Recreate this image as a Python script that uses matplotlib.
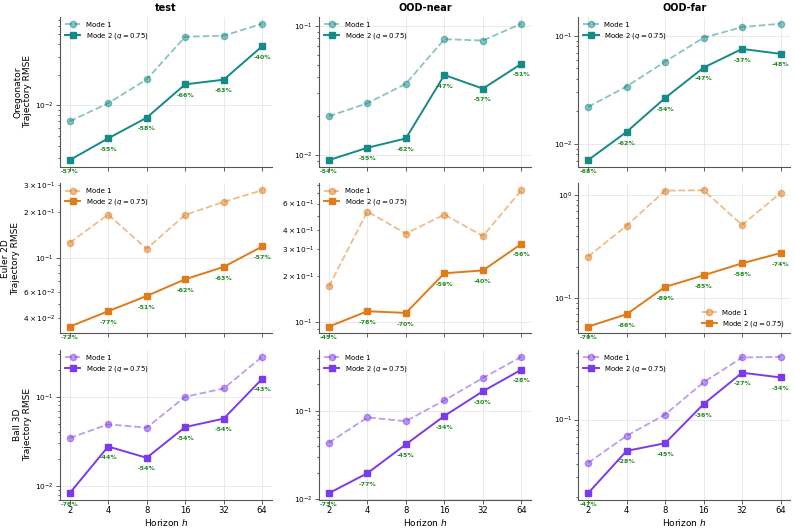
import matplotlib.pyplot as plt
import numpy as np

horizons = [2, 4, 8, 16, 32, 64]
splits = ["test", "OOD-near", "OOD-far"]
systems = ["Oregonator", "Euler 2D", "Ball 3D"]
colors = ["#168a86", "#e07b1a", "#7c3aed"]

# Mode 1 / Mode 2 RMSE, one row per split (test, OOD-near, OOD-far)
oreg_mode1 = [[0.00697, 0.0105, 0.0180, 0.0474, 0.0485, 0.0637],
              [0.0200, 0.0252, 0.0357, 0.0789, 0.0771, 0.104],
              [0.0220, 0.0340, 0.0579, 0.0965, 0.121, 0.130]]
oreg_mode2 = [[0.00289, 0.00473, 0.00756, 0.0161, 0.0179, 0.0382],
              [0.00915, 0.0114, 0.01346, 0.0417, 0.0327, 0.0509],
              [0.00706, 0.0129, 0.0266, 0.0509, 0.0759, 0.0683]]
oreg_pct = [[-57, -55, -58, -66, -63, -40],
            [-54, -55, -62, -47, -57, -51],
            [-68, -62, -54, -47, -37, -48]]

euler_mode1 = [[0.126, 0.193, 0.115, 0.192, 0.234, 0.279],
               [0.171, 0.532, 0.381, 0.508, 0.367, 0.734],
               [0.252, 0.503, 1.10, 1.11, 0.511, 1.045]]
euler_mode2 = [[0.0353, 0.0446, 0.0562, 0.0724, 0.0873, 0.119],
               [0.0931, 0.1176, 0.1146, 0.209, 0.218, 0.326],
               [0.0527, 0.0695, 0.128, 0.166, 0.217, 0.273]]
euler_pct = [[-72, -77, -51, -62, -63, -57],
             [-45, -78, -70, -59, -40, -56],
             [-79, -86, -89, -85, -58, -74]]

ball_mode1 = [[0.0345, 0.0491, 0.0451, 0.100, 0.124, 0.281],
              [0.0436, 0.0843, 0.0765, 0.132, 0.236, 0.410],
              [0.0406, 0.0712, 0.111, 0.217, 0.364, 0.369]]
ball_mode2 = [[0.0083, 0.0277, 0.0207, 0.0458, 0.0569, 0.159],
              [0.0117, 0.0197, 0.0418, 0.0878, 0.167, 0.293],
              [0.0216, 0.0521, 0.0611, 0.138, 0.265, 0.240]]
ball_pct = [[-76, -44, -54, -54, -54, -43],
            [-73, -77, -45, -34, -30, -28],
            [-47, -28, -45, -36, -27, -34]]

mode1 = [oreg_mode1, euler_mode1, ball_mode1]
mode2 = [oreg_mode2, euler_mode2, ball_mode2]
pct = [oreg_pct, euler_pct, ball_pct]

fig, axes = plt.subplots(3, 3, figsize=(7.95, 5.28), dpi=100)
fig.subplots_adjust(left=0.0755, right=0.994, top=0.968, bottom=0.053,
                    wspace=0.224, hspace=0.11)

x = np.arange(len(horizons))
for r in range(3):
    for c in range(3):
        ax = axes[r][c]
        col = colors[r]
        ax.plot(x, mode1[r][c], '--o', color=col, alpha=0.5, lw=1.3,
                ms=4.5, label='Mode 1')
        ax.plot(x, mode2[r][c], '-s', color=col, lw=1.4, ms=4.5,
                label='Mode 2 ($q = 0.75$)')
        for i in range(len(horizons)):
            ax.annotate(f"{pct[r][c][i]}%", (x[i], mode2[r][c][i]),
                        xytext=(0, -8), textcoords='offset points',
                        ha='center', va='center', fontsize=4.5,
                        fontweight='bold', color='forestgreen')
        ax.set_yscale('log')
        ax.set_xticks(x)
        if r == 2:
            ax.set_xticklabels([str(h) for h in horizons])
            ax.set_xlabel('Horizon $h$', fontsize=6.5, labelpad=1)
        else:
            ax.set_xticklabels([])
        if r == 0:
            ax.set_title(splits[c], fontsize=7, fontweight='bold', pad=4)
        if c == 0:
            ax.set_ylabel(systems[r] + "\nTrajectory RMSE", fontsize=6.5,
                          labelpad=2)
        ax.grid(True, which='major', color='#e6e6e6', lw=0.6)
        ax.tick_params(axis='both', which='both', labelsize=6, length=3,
                       width=0.6, pad=1.5, color='#444444')
        ax.tick_params(axis='y', which='both', labelsize=5.3)
        ax.tick_params(axis='y', which='minor', length=1.8)
        for s in ['top', 'right']:
            ax.spines[s].set_visible(False)
        for s in ['left', 'bottom']:
            ax.spines[s].set_color('#555555')
            ax.spines[s].set_linewidth(0.8)
        loc = 'lower right' if (r == 1 and c == 2) else 'upper left'
        ax.legend(loc=loc, fontsize=5, frameon=False, handlelength=2.2,
                  borderaxespad=0.3, labelspacing=0.4)

fig.savefig('out.png', dpi=100)
